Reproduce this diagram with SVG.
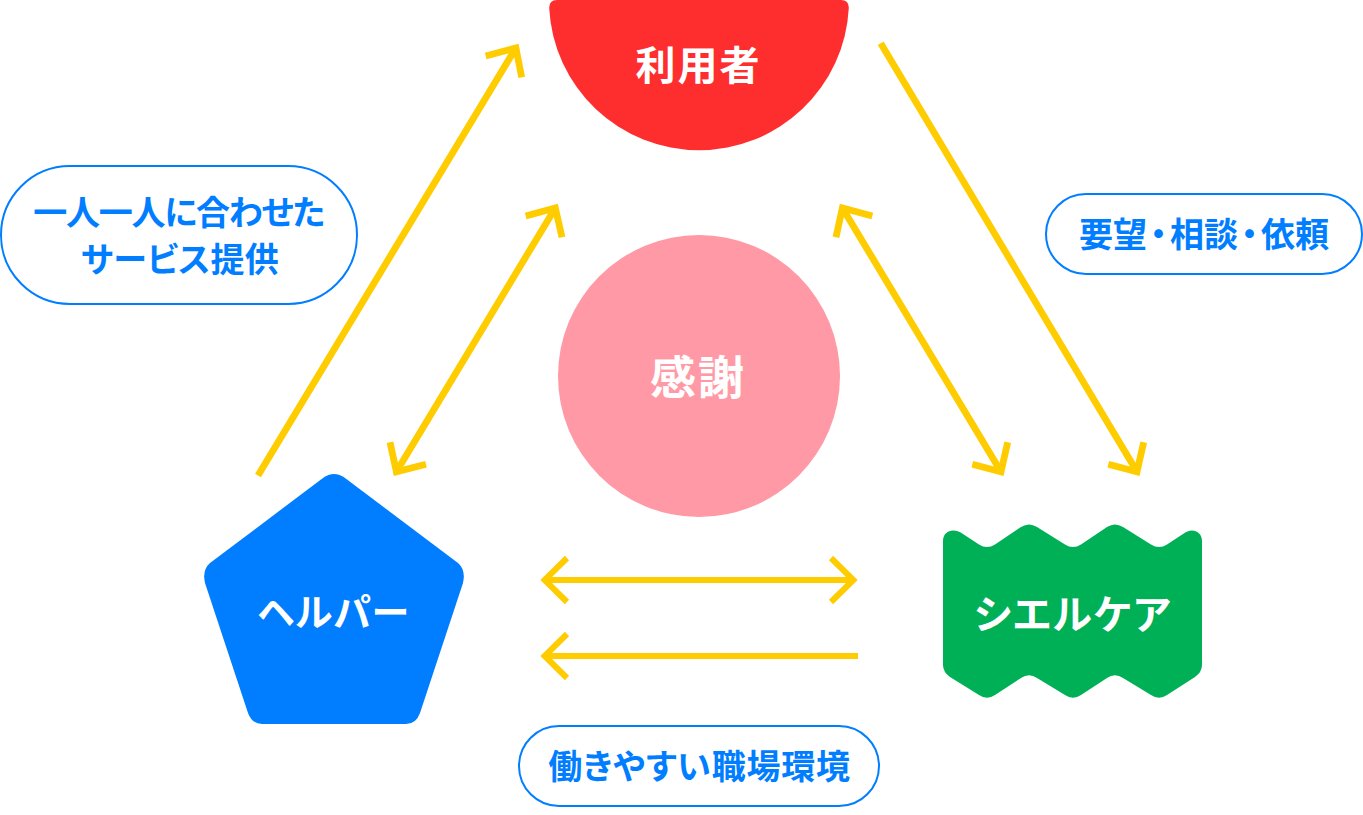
<svg xmlns="http://www.w3.org/2000/svg" width="1363" height="815" viewBox="0 0 1363 815">
<style>
text{font-family:"Noto Sans CJK JP","Noto Sans",sans-serif;font-weight:700;text-anchor:middle;font-feature-settings:"palt"}
.w{fill:#fff;font-size:40px;letter-spacing:2px}
.b{fill:#007EFF;font-size:34px}
.p{fill:#fff;stroke:#007EFF;stroke-width:2}
.a{fill:none;stroke:#FFCC00;stroke-width:6.8}
.h{stroke-width:6}
</style>
<rect width="1363" height="815" fill="#fff"/>
<g id="connectors">
<path class="a" d="M258 475.5L515.9 47.9M485.7 56L515.9 47.9L521.7 77.3"/>
<path class="a" d="M396.4 471.8L555.3 207.9M525.7 216L555.3 207.9L562 237.3"/>
<path class="a" d="M390 442.3L396.4 471.8L426 464.3"/>
<path class="a" d="M842.4 207.9L1001 471.8M872.3 216L842.4 207.9L836 237.3"/>
<path class="a" d="M972.3 464.3L1001 471.8L1007.7 442.3"/>
<path class="a" d="M880.7 43.3L1137 471.8M1108.3 464.3L1137 471.8L1143.7 442.3"/>
<path class="a h" d="M546 580H853M567 558L544.6 580L567 602M831 558L853.4 580L831 602"/>
<path class="a h" d="M858 656H546M567 634L544.6 656L567 678"/>
</g>
<g id="user">
<path fill="#FF2E2E" d="M557 0H841Q849 0 848.8 8A150 150 0 0 1 549.2 8Q549 0 557 0Z"/>
<text class="w" x="698.5" y="80">利用者</text>
</g>
<g id="thanks">
<circle cx="699" cy="376" r="141" fill="#FF99A5"/>
<text class="w" x="698" y="394" style="font-size:46px">感謝</text>
</g>
<g id="helper">
<path fill="#007EFF" d="M323 478Q334 470 345 478L458 563Q466 570 463 583L420 713Q416 724 406 724H262Q252 724 248 713L205 583Q202 570 210 563Z"/>
<text class="w" x="333.5" y="626" style="font-size:38px;letter-spacing:1px">ヘルパー</text>
</g>
<g id="shelcare">
<path fill="#00B057" d="M943 541C943 534 948 530.5 953 530.5C957 530.5 960 532 963 534L979 544.4Q987 549.5 995 544.4L1021 527Q1029 522 1037 527L1065 544.4Q1073 549.5 1081 544.4L1107 527Q1115 522 1123 527L1151 544.4Q1159 549.5 1167 544.4L1183 534C1186 532 1189 530.5 1192 530.5C1197 530.5 1202 534 1202 541V665Q1202 672 1195 677L1167 695Q1159 700.5 1151 695L1123 678Q1115 672.5 1107 678L1081 695Q1073 700.5 1065 695L1037 678Q1029 672.5 1021 678L995 695Q987 700.5 979 695L950 677Q943 672 943 665Z"/>
<text class="w" x="1073" y="629" style="letter-spacing:1.6px">シエルケア</text>
</g>
<g id="label-service">
<rect class="p" x="1" y="166" width="356" height="138" rx="69"/>
<text class="b" x="178.5" y="225" style="letter-spacing:-1.2px">一人一人に合わせた</text>
<text class="b" x="180" y="272" style="letter-spacing:.3px">サービス提供</text>
</g>
<g id="label-request">
<rect class="p" x="1046" y="194" width="316" height="80" rx="40"/>
<text class="b" x="1204" y="247">要望<tspan dx="3">・</tspan><tspan dx="3">相談</tspan><tspan dx="3">・</tspan><tspan dx="3">依頼</tspan></text>
</g>
<g id="label-work">
<rect class="p" x="519" y="726" width="360" height="80" rx="40"/>
<text class="b" x="699.5" y="779" style="letter-spacing:.8px">働きやすい職場環境</text>
</g>
</svg>
